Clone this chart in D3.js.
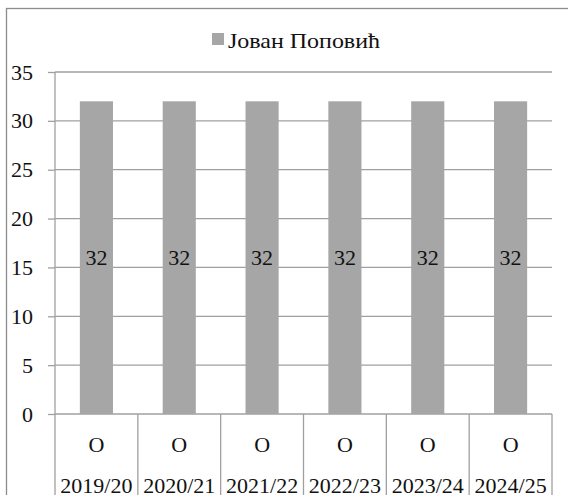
<!DOCTYPE html>
<html>
<head>
    <meta charset="utf-8"/>
    <script src="https://d3js.org/d3.v7.min.js"></script>
    <style>
        body { margin: 0; background: #ffffff; }
        svg { display: block; }
        svg text { font-family: "Liberation Serif", "Times New Roman", serif; }
        .axisY path { display: none; }
        .axisY line { stroke: #a0a0a0; stroke-width: 1.3; }
        .axisY text { fill: #111111; font-size: 22px; font-family: "Liberation Serif", serif; }
    </style>
</head>
<body>
<svg id="chart" width="568" height="495"></svg>
<script>

    // data
    var seasons = ["2019/20", "2020/21", "2021/22", "2022/23", "2023/24", "2024/25"];
    var grades = ["О", "О", "О", "О", "О", "О"];
    var values = [32, 32, 32, 32, 32, 32];
    var yTicks = [0, 5, 10, 15, 20, 25, 30, 35];
    var seriesName = "Јован Поповић";

    var svg = d3.select("#chart");

    var plotL = 55, plotR = 552, plotT = 72, plotB = 414;
    var fs = 22;

    // outer frame
    svg.append("rect")
        .attr("x", 6.5).attr("y", 8.5)
        .attr("width", 700).attr("height", 700)
        .attr("fill", "none").attr("stroke", "#8c8c8c").attr("stroke-width", 1.3);

    var x = d3.scaleBand().domain(seasons).range([plotL, plotR]).paddingInner(0).paddingOuter(0);
    var y = d3.scaleLinear().domain([0, 35]).range([plotB, plotT]);

    //Gridlines
    svg.append("g").selectAll("line").data(yTicks).enter()
        .append("line")
        .attr("x1", plotL).attr("x2", plotR)
        .attr("y1", function (d) { return y(d); })
        .attr("y2", function (d) { return y(d); })
        .attr("stroke", "#a0a0a0").attr("stroke-width", 1.3);

    //Axis
    var axY = d3.axisLeft(y).tickValues(yTicks).tickSize(7).tickPadding(15);
    svg.append("g").attr("class", "axisY").attr("transform", "translate(" + plotL + ",0)").call(axY);

    //Bars
    var barW = x.bandwidth() * 0.4;
    svg.append("g").selectAll("rect").data(values).enter()
        .append("rect")
        .attr("x", function (d, i) { return x(seasons[i]) + (x.bandwidth() - barW) / 2; })
        .attr("y", function (d) { return y(d); })
        .attr("width", barW)
        .attr("height", function (d) { return y(0) - y(d); })
        .attr("fill", "#a6a6a6");

    //Value labels
    svg.append("g").selectAll("text").data(values).enter()
        .append("text")
        .attr("x", function (d, i) { return x(seasons[i]) + x.bandwidth() / 2; })
        .attr("y", function (d) { return (y(d) + y(0)) / 2; })
        .attr("dy", "0.35em")
        .attr("text-anchor", "middle")
        .attr("font-size", fs).attr("fill", "#111111")
        .text(function (d) { return d; });

    // category boxes under the plot
    var frame = svg.append("g").attr("stroke", "#a0a0a0").attr("stroke-width", 1.3);
    frame.append("line").attr("x1", plotL).attr("x2", plotL).attr("y1", plotT).attr("y2", 495);
    seasons.forEach(function (s) {
        frame.append("line")
            .attr("x1", x(s) + x.bandwidth()).attr("x2", x(s) + x.bandwidth())
            .attr("y1", plotB).attr("y2", 495);
    });

    svg.append("g").selectAll("text").data(grades).enter()
        .append("text")
        .attr("x", function (d, i) { return x(seasons[i]) + x.bandwidth() / 2; })
        .attr("y", 452)
        .attr("text-anchor", "middle")
        .attr("font-size", fs).attr("fill", "#111111")
        .text(function (d) { return d; });

    svg.append("g").selectAll("text").data(seasons).enter()
        .append("text")
        .attr("x", function (d) { return x(d) + x.bandwidth() / 2; })
        .attr("y", 493)
        .attr("text-anchor", "middle")
        .attr("font-size", fs).attr("fill", "#111111")
        .text(function (d) { return d; });

    //Legend
    svg.append("rect").attr("x", 212).attr("y", 33).attr("width", 12).attr("height", 12).attr("fill", "#a6a6a6");
    svg.append("text").attr("x", 228).attr("y", 48)
        .attr("font-size", fs).attr("fill", "#111111")
        .attr("textLength", 152).attr("lengthAdjust", "spacingAndGlyphs")
        .text(seriesName);

</script>
</body>
</html>
